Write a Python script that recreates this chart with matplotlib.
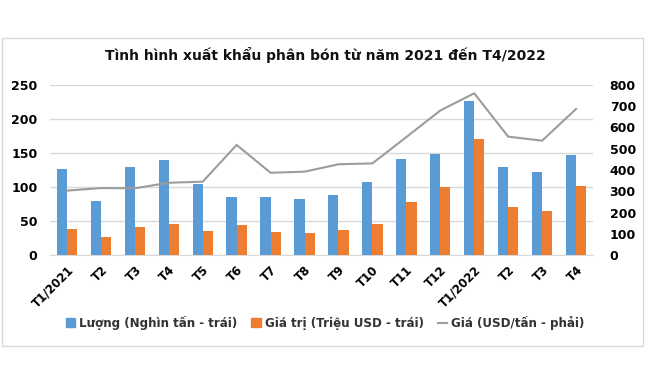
import numpy as np
import matplotlib.pyplot as plt
from matplotlib.patches import Rectangle
from matplotlib.lines import Line2D

# data
months = ['T1/2021', 'T2', 'T3', 'T4', 'T5', 'T6', 'T7', 'T8', 'T9', 'T10',
          'T11', 'T12', 'T1/2022', 'T2', 'T3', 'T4']
volume = [126, 80, 129, 140, 105, 86, 85, 83, 88, 108, 141, 148, 226, 129, 122, 147]
value = [38, 26, 41, 46, 35, 44, 34, 32, 37, 45, 78, 100, 171, 70, 65, 101]
price = [303, 315, 314, 340, 345, 518, 387, 392, 427, 431, 555, 680, 761, 557, 538, 687]

blue = '#5B9BD5'
orange = '#ED7D31'
grey = '#9C9C9C'

fig = plt.figure(figsize=(6.5, 3.9), dpi=100)
fig.patch.set_facecolor('white')

# chart frame
fig.patches.append(Rectangle((2 / 650, 1 - 346 / 390), 641 / 650, 308 / 390,
                             transform=fig.transFigure, fill=False,
                             edgecolor='#D9D9D9', linewidth=1))

ax = fig.add_axes([50 / 650, 1 - 255 / 390, 543 / 650, 170 / 390])
ax2 = ax.twinx()

x = np.arange(len(months))
w = 0.3
ax.bar(x - w / 2, volume, w, color=blue, zorder=3)
ax.bar(x + w / 2, value, w, color=orange, zorder=3)
ax2.plot(x, price, color=grey, linewidth=1.5, zorder=4)

ax.set_xlim(-0.5, len(months) - 0.5)
ax.set_ylim(0, 250)
ax2.set_ylim(0, 800)
ax.set_yticks(range(0, 251, 50))
ax2.set_yticks(range(0, 801, 100))
ax.grid(axis='y', color='#D9D9D9', linewidth=1, zorder=0)

for a in (ax, ax2):
    for s in a.spines.values():
        s.set_visible(False)
    a.tick_params(length=0, labelsize=9)
    for lab in a.get_yticklabels():
        lab.set_fontweight('bold')
ax.spines['bottom'].set_visible(True)
ax.spines['bottom'].set_color('#D9D9D9')
ax.tick_params(axis='y', pad=9)
ax2.tick_params(axis='y', pad=12)

ax.set_xticks(x)
ax.set_xticklabels(months, rotation=45, ha='right', rotation_mode='anchor',
                   fontsize=8.5, fontweight='bold')
ax.tick_params(axis='x', pad=6)

fig.text(0.5, 1 - 55 / 390, 'Tình hình xuất khẩu phân bón từ năm 2021 đến T4/2022',
         ha='center', va='center', fontsize=10, fontweight='bold', color='#111111')

handles = [Rectangle((0, 0), 1, 1, color=blue),
           Rectangle((0, 0), 1, 1, color=orange),
           Line2D([0], [0], color=grey, linewidth=1.5)]
labels = ['Lượng (Nghìn tấn - trái)', 'Giá trị (Triệu USD - trái)', 'Giá (USD/tấn - phải)']
leg = fig.legend(handles, labels, loc='center', bbox_to_anchor=(0.5, 1 - 323 / 390),
                 ncol=3, frameon=False, fontsize=8.6, handlelength=0.8, handleheight=0.8,
                 handletextpad=0.3, columnspacing=1.2)
for t in leg.get_texts():
    t.set_fontweight('bold')
    t.set_color('#333333')

fig.savefig('out.png', dpi=100)
